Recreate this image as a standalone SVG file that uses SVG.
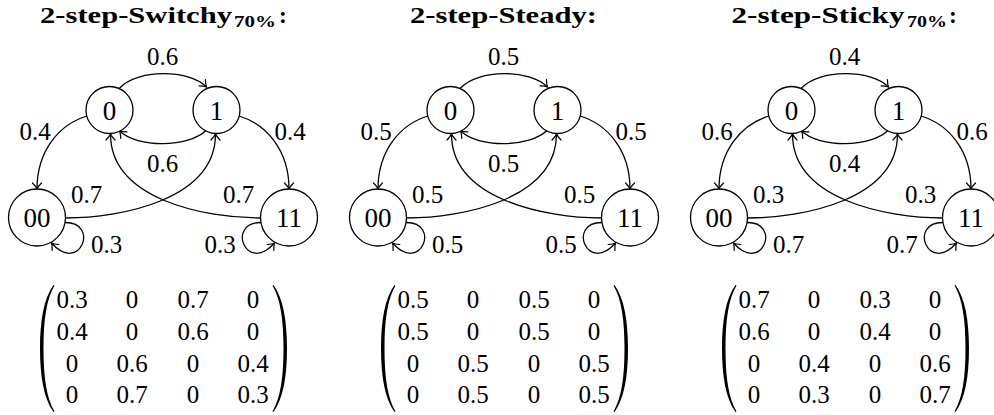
<svg xmlns="http://www.w3.org/2000/svg" width="994" height="415" viewBox="0 0 994 415">
<style>
.nd{fill:#fff;stroke:#000;stroke-width:1.3}
.ed{fill:none;stroke:#000;stroke-width:1.3;marker-end:url(#arr)}
.nl{font-family:"Liberation Serif",serif;font-size:27px;text-anchor:middle}
.el{font-family:"Liberation Serif",serif;font-size:25px;text-anchor:middle}
.mx{font-family:"Liberation Serif",serif;font-size:25px;text-anchor:middle}
.tt{font-family:"Liberation Serif",serif;font-size:23.5px;font-weight:bold}
.ts{font-family:"Liberation Serif",serif;font-size:16px;font-weight:bold}
</style>
<defs>
<marker id="arr" viewBox="-8 -6 10 12" refX="0" refY="0" markerWidth="10" markerHeight="12" markerUnits="userSpaceOnUse" orient="auto">
<path d="M-6,-4.5 Q-2.5,-1 0,0 Q-2.5,1 -6,4.5" fill="none" stroke="#000" stroke-width="1.2" stroke-linecap="round"/>
</marker>
<path id="lp" d="M53.5,285 C44,298 40,320 40,348.5 C40,377 44,399 53.5,412 L54.5,411.5 C46.5,398 43.5,377 43.5,348.5 C43.5,320 46.5,299 54.5,285.5 Z" fill="#000"/>
</defs>

<!-- Panel 1: Switchy -->
<g id="switchy">
<text class="tt" x="40" y="22.5" textLength="192" lengthAdjust="spacingAndGlyphs">2-step-Switchy</text>
<text class="ts" x="234" y="27" textLength="42" lengthAdjust="spacingAndGlyphs">70%</text>
<text class="tt" x="279" y="22.5">:</text>
<g id="sw-edges">
<path class="ed" d="M119.5,88 C137.5,69 188.5,69 206.5,87"/>
<path class="ed" d="M206.5,130 C188.5,148 137.5,148 119.5,131"/>
<path class="ed" d="M87,116 C60,124 37,150 37,189"/>
<path class="ed" d="M239,116 C266,124 289,150 289,189"/>
<path class="ed" d="M65.5,218 C120,218 215.5,200 215.5,134"/>
<path class="ed" d="M260.5,218 C206,218 110.5,200 110.5,134"/>
<path class="ed" d="M65,222.5 C100,222 80,275 51.5,243"/>
<path class="ed" d="M261,222.5 C226,222 246,275 274.5,243"/>
<text class="el" x="162.5" y="65">0.6</text>
<text class="el" x="162.5" y="171.5">0.6</text>
<text class="el" x="35" y="140">0.4</text>
<text class="el" x="290" y="140">0.4</text>
<text class="el" x="86.5" y="203">0.7</text>
<text class="el" x="238.5" y="203">0.7</text>
<text class="el" x="106.5" y="253">0.3</text>
<text class="el" x="220" y="253">0.3</text>
</g>
<g id="sw-n0"><circle class="nd" cx="109.5" cy="110" r="23.5"/><text class="nl" x="109.5" y="119.5">0</text></g>
<g id="sw-n1"><circle class="nd" cx="216.5" cy="110" r="23.5"/><text class="nl" x="216.5" y="119.5">1</text></g>
<g id="sw-n00"><circle class="nd" cx="37" cy="217.5" r="28.5"/><text class="nl" x="37" y="227">00</text></g>
<g id="sw-n11"><circle class="nd" cx="289" cy="217.5" r="28.5"/><text class="nl" x="289" y="227">11</text></g>
<g id="sw-matrix">
<use href="#lp"/><use href="#lp" transform="translate(327,0) scale(-1,1)"/>
<text class="mx" x="72" y="308">0.3</text><text class="mx" x="132" y="308">0</text><text class="mx" x="193" y="308">0.7</text><text class="mx" x="253" y="308">0</text>
<text class="mx" x="72" y="340">0.4</text><text class="mx" x="132" y="340">0</text><text class="mx" x="193" y="340">0.6</text><text class="mx" x="253" y="340">0</text>
<text class="mx" x="72" y="372">0</text><text class="mx" x="132" y="372">0.6</text><text class="mx" x="193" y="372">0</text><text class="mx" x="253" y="372">0.4</text>
<text class="mx" x="72" y="403">0</text><text class="mx" x="132" y="403">0.7</text><text class="mx" x="193" y="403">0</text><text class="mx" x="253" y="403">0.3</text>
</g>
</g>

<!-- Panel 2: Steady -->
<g id="steady" transform="translate(341,0)">
<text class="tt" x="69" y="22.5" textLength="187" lengthAdjust="spacingAndGlyphs">2-step-Steady:</text>
<g id="st-edges">
<path class="ed" d="M119.5,88 C137.5,69 188.5,69 206.5,87"/>
<path class="ed" d="M206.5,130 C188.5,148 137.5,148 119.5,131"/>
<path class="ed" d="M87,116 C60,124 37,150 37,189"/>
<path class="ed" d="M239,116 C266,124 289,150 289,189"/>
<path class="ed" d="M65.5,218 C120,218 215.5,200 215.5,134"/>
<path class="ed" d="M260.5,218 C206,218 110.5,200 110.5,134"/>
<path class="ed" d="M65,222.5 C100,222 80,275 51.5,243"/>
<path class="ed" d="M261,222.5 C226,222 246,275 274.5,243"/>
<text class="el" x="162.5" y="65">0.5</text>
<text class="el" x="162.5" y="171.5">0.5</text>
<text class="el" x="35" y="140">0.5</text>
<text class="el" x="290" y="140">0.5</text>
<text class="el" x="86.5" y="203">0.5</text>
<text class="el" x="238.5" y="203">0.5</text>
<text class="el" x="106.5" y="253">0.5</text>
<text class="el" x="220" y="253">0.5</text>
</g>
<g id="st-n0"><circle class="nd" cx="109.5" cy="110" r="23.5"/><text class="nl" x="109.5" y="119.5">0</text></g>
<g id="st-n1"><circle class="nd" cx="216.5" cy="110" r="23.5"/><text class="nl" x="216.5" y="119.5">1</text></g>
<g id="st-n00"><circle class="nd" cx="37" cy="217.5" r="28.5"/><text class="nl" x="37" y="227">00</text></g>
<g id="st-n11"><circle class="nd" cx="289" cy="217.5" r="28.5"/><text class="nl" x="289" y="227">11</text></g>
<g id="st-matrix">
<use href="#lp"/><use href="#lp" transform="translate(327,0) scale(-1,1)"/>
<text class="mx" x="72" y="308">0.5</text><text class="mx" x="132" y="308">0</text><text class="mx" x="193" y="308">0.5</text><text class="mx" x="253" y="308">0</text>
<text class="mx" x="72" y="340">0.5</text><text class="mx" x="132" y="340">0</text><text class="mx" x="193" y="340">0.5</text><text class="mx" x="253" y="340">0</text>
<text class="mx" x="72" y="372">0</text><text class="mx" x="132" y="372">0.5</text><text class="mx" x="193" y="372">0</text><text class="mx" x="253" y="372">0.5</text>
<text class="mx" x="72" y="403">0</text><text class="mx" x="132" y="403">0.5</text><text class="mx" x="193" y="403">0</text><text class="mx" x="253" y="403">0.5</text>
</g>
</g>

<!-- Panel 3: Sticky -->
<g id="sticky" transform="translate(682,0)">
<text class="tt" x="49.5" y="22.5" textLength="173" lengthAdjust="spacingAndGlyphs">2-step-Sticky</text>
<text class="ts" x="225" y="27" textLength="40" lengthAdjust="spacingAndGlyphs">70%</text>
<text class="tt" x="267" y="22.5">:</text>
<g id="sk-edges">
<path class="ed" d="M119.5,88 C137.5,69 188.5,69 206.5,87"/>
<path class="ed" d="M206.5,130 C188.5,148 137.5,148 119.5,131"/>
<path class="ed" d="M87,116 C60,124 37,150 37,189"/>
<path class="ed" d="M239,116 C266,124 289,150 289,189"/>
<path class="ed" d="M65.5,218 C120,218 215.5,200 215.5,134"/>
<path class="ed" d="M260.5,218 C206,218 110.5,200 110.5,134"/>
<path class="ed" d="M65,222.5 C100,222 80,275 51.5,243"/>
<path class="ed" d="M261,222.5 C226,222 246,275 274.5,243"/>
<text class="el" x="162.5" y="65">0.4</text>
<text class="el" x="162.5" y="171.5">0.4</text>
<text class="el" x="35" y="140">0.6</text>
<text class="el" x="290" y="140">0.6</text>
<text class="el" x="86.5" y="203">0.3</text>
<text class="el" x="238.5" y="203">0.3</text>
<text class="el" x="106.5" y="253">0.7</text>
<text class="el" x="220" y="253">0.7</text>
</g>
<g id="sk-n0"><circle class="nd" cx="109.5" cy="110" r="23.5"/><text class="nl" x="109.5" y="119.5">0</text></g>
<g id="sk-n1"><circle class="nd" cx="216.5" cy="110" r="23.5"/><text class="nl" x="216.5" y="119.5">1</text></g>
<g id="sk-n00"><circle class="nd" cx="37" cy="217.5" r="28.5"/><text class="nl" x="37" y="227">00</text></g>
<g id="sk-n11"><circle class="nd" cx="289" cy="217.5" r="28.5"/><text class="nl" x="289" y="227">11</text></g>
<g id="sk-matrix">
<use href="#lp"/><use href="#lp" transform="translate(327,0) scale(-1,1)"/>
<text class="mx" x="72" y="308">0.7</text><text class="mx" x="132" y="308">0</text><text class="mx" x="193" y="308">0.3</text><text class="mx" x="253" y="308">0</text>
<text class="mx" x="72" y="340">0.6</text><text class="mx" x="132" y="340">0</text><text class="mx" x="193" y="340">0.4</text><text class="mx" x="253" y="340">0</text>
<text class="mx" x="72" y="372">0</text><text class="mx" x="132" y="372">0.4</text><text class="mx" x="193" y="372">0</text><text class="mx" x="253" y="372">0.6</text>
<text class="mx" x="72" y="403">0</text><text class="mx" x="132" y="403">0.3</text><text class="mx" x="193" y="403">0</text><text class="mx" x="253" y="403">0.7</text>
</g>
</g>
</svg>
